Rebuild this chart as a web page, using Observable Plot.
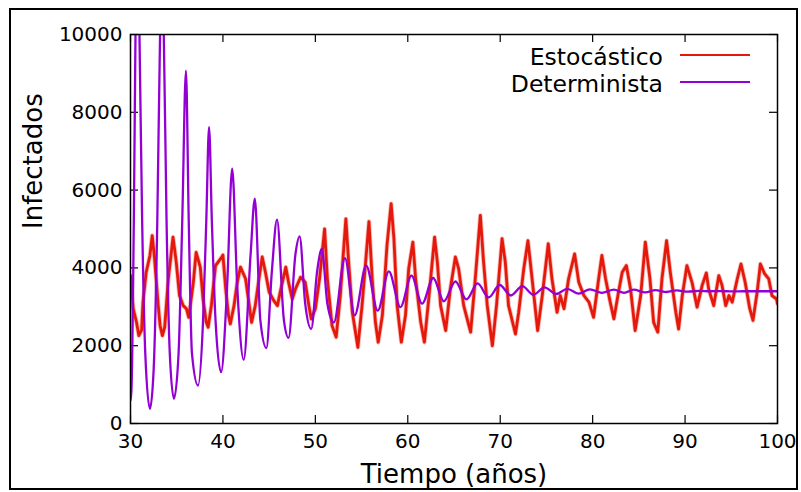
<!DOCTYPE html>
<html><head><meta charset="utf-8">
<script src="https://cdn.jsdelivr.net/npm/d3@7"></script>
<script src="https://cdn.jsdelivr.net/npm/@observablehq/plot@0.6"></script>
<style>
body{margin:0;background:#fff;font-family:"DejaVu Sans",sans-serif;}
#wrap{position:relative;width:801px;height:492px;overflow:hidden;}
#border{position:absolute;left:9px;top:8px;width:785px;height:478px;border:2px solid #000;pointer-events:none;}
.lrow{position:absolute;left:380px;width:283px;text-align:right;font-size:23.5px;line-height:27.4px;color:#000;white-space:nowrap;}
.lline{position:absolute;left:680px;width:70px;height:2px;}
</style>
</head><body>
<div id="wrap"><div id="border"></div></div>
<script>
// Data
const xTicks = [30, 40, 50, 60, 70, 80, 90, 100];
const yTicks = [0, 2000, 4000, 6000, 8000, 10000];
const seriesNames = ["Estocástico", "Determinista"];
const seriesColors = ["#e4190b", "#9400d3"];

const stochTime = [30.0,30.3,30.65,30.9,31.2,31.35,31.7,32.1,32.35,32.6,33.0,33.2,33.45,33.7,34.1,34.6,34.95,35.3,35.7,36.05,36.3,36.8,37.1,37.55,37.85,38.2,38.4,38.75,39.2,39.85,40.0,40.3,40.6,40.8,41.2,41.55,41.9,42.45,42.8,43.1,43.5,43.9,44.25,44.6,45.0,45.5,45.9,46.2,46.8,47.1,47.5,47.85,48.4,48.9,49.3,49.55,50.0,50.45,51.0,51.3,51.8,52.25,52.7,53.3,53.6,54.0,54.6,55.05,55.8,56.15,56.5,56.8,57.25,57.75,58.2,58.5,58.85,59.3,59.75,60.1,60.55,60.85,61.4,61.8,62.3,62.9,63.2,63.55,64.1,64.6,65.15,65.5,66.05,66.8,67.3,67.85,68.2,68.6,69.15,69.6,70.2,70.55,70.9,71.65,72.0,72.55,73.0,73.45,74.05,74.55,75.2,75.6,76.15,76.5,76.9,77.4,78.05,78.5,79.05,79.6,80.1,80.65,81.0,81.4,81.9,82.3,82.8,83.2,83.65,84.1,84.6,85.2,85.7,86.2,86.6,87.05,87.5,88.0,88.4,89.0,89.3,89.7,90.2,90.75,91.3,91.85,92.3,92.55,93.1,93.65,94.0,94.4,94.75,95.1,95.65,96.05,96.5,97.0,97.35,97.8,98.15,98.6,99.05,99.4,99.9,100.0];
const stochValue = [3800,2950,2600,2260,2400,3120,3890,4320,4830,4240,3030,2520,2260,2475,3730,4790,4150,3290,3030,2950,2730,3630,4400,4020,3200,2600,2475,3030,4060,4270,4330,3460,2780,2560,3030,3630,4020,3720,3120,2600,3030,3720,4280,3890,3380,3160,3030,3380,4020,3630,3200,3460,3760,3630,3030,2690,2950,3720,5000,3720,2520,2220,3290,5260,4150,2860,1960,3030,5190,3720,2600,2090,2780,4580,5650,4750,3030,2090,2780,3980,4660,3720,2600,2090,3290,4790,4150,3030,2390,3460,4280,3980,3030,2350,3720,5350,4150,3030,2000,3030,4750,4150,3030,2300,2860,3980,4700,3720,2390,3290,4620,3720,2860,3290,2950,3720,4360,3630,3290,3120,2730,3720,4320,3720,3120,2690,3380,3890,4060,3460,2390,3290,4660,3720,2600,2350,3720,4700,3890,2860,2430,3290,4060,3630,2990,3550,3870,3460,3030,3800,3550,3030,3290,3120,3720,4100,3630,2950,2650,3380,4100,3850,3720,3290,3200,3080];

const detTime = [30.0,30.1,30.36,30.54,30.75,30.97,31.26,31.6,32.1,32.5,32.9,33.2,33.4,33.6,33.9,34.25,34.7,35.2,35.6,36.0,36.3,36.65,37.3,37.85,38.2,38.5,38.8,39.2,39.8,40.45,41.0,41.55,42.25,43.0,43.45,44.05,44.7,45.3,45.85,46.6,47.1,47.85,48.3,48.9,49.55,50.2,50.7,51.3,52.0,53.2,54.25,55.5,56.75,57.95,59.2,60.4,61.55,62.75,63.9,65.15,66.35,67.55,68.75,69.95,71.15,72.4,73.6,74.8,76.05,77.25,78.5,79.7,81.0,82.3,83.4,84.45,85.7,86.8,88.0,89.1,90.3,91.5,92.7,93.9,95.1,96.3,97.5,100.0];
const detValue = [600,850,5220,10000,13500,10000,5220,1800,377,1360,5220,10000,11500,10000,5220,1800,635,1800,5220,9070,5220,1800,977,2650,5220,7620,5220,2650,1320,3500,6550,3500,1640,4370,5780,2650,1940,3930,5240,2650,2200,4360,4810,3080,2430,3930,4490,3080,2600,4250,2780,4060,2900,3910,2990,3800,3080,3740,3140,3650,3190,3600,3240,3560,3290,3530,3310,3500,3330,3460,3340,3450,3360,3440,3360,3440,3370,3430,3380,3420,3390,3410,3400,3405,3395,3400,3400,3400];

const stoch = stochTime.map((t, i) => ({t, v: stochValue[i]}));
const det = detTime.map((t, i) => ({t, v: detValue[i]}));

const plot = Plot.plot({
  width: 801, height: 492,
  marginLeft: 130, marginRight: 24, marginTop: 34, marginBottom: 69,
  style: {fontFamily: "DejaVu Sans", fontSize: "20px", color: "#000", background: "transparent", overflow: "visible"},
  x: {domain: [30, 100]},
  y: {domain: [0, 10000]},
  marks: [
    Plot.axisX(xTicks, {tickSize: 0, tickPadding: 10, fontSize: 20, label: null, tickFormat: d => String(d)}),
    Plot.axisY(yTicks, {tickSize: 0, tickPadding: 8, fontSize: 20, label: null, tickFormat: d => String(d)}),
    Plot.tickX(xTicks, {x: d => d, insetTop: 381, stroke: "#000", strokeWidth: 1.2}),
    Plot.tickX(xTicks, {x: d => d, insetBottom: 381, stroke: "#000", strokeWidth: 1.2}),
    Plot.tickY(yTicks, {y: d => d, insetRight: 639, stroke: "#000", strokeWidth: 1.2}),
    Plot.tickY(yTicks, {y: d => d, insetLeft: 639, stroke: "#000", strokeWidth: 1.2}),
    Plot.line(stoch, {x: "t", y: "v", stroke: seriesColors[0], strokeWidth: 4.5, strokeOpacity: 0.3, clip: true}),
    Plot.line(stoch, {x: "t", y: "v", stroke: seriesColors[0], strokeWidth: 2.8, clip: true}),
    Plot.line(det, {x: "t", y: "v", stroke: seriesColors[1], strokeWidth: 2.3, curve: "monotone-x", clip: true}),
    Plot.frame({stroke: "#000", strokeWidth: 1.5}),
    Plot.text(["Tiempo (años)"], {text: d => d, frameAnchor: "bottom", dy: 51, fontSize: 26, lineAnchor: "middle"}),
    Plot.text(["Infectados"], {text: d => d, frameAnchor: "left", dx: -97, rotate: -90, fontSize: 26, lineAnchor: "middle"})
  ]
});
const wrap = document.getElementById("wrap");
plot.style.position = "absolute";
plot.style.left = "0px";
plot.style.top = "0px";
wrap.insertBefore(plot, wrap.firstChild);

// legend
const rowTops = [44, 70.5];
const lineTops = [54, 81];
seriesNames.forEach((name, i) => {
  const r = document.createElement("div");
  r.className = "lrow";
  r.style.top = rowTops[i] + "px";
  r.textContent = name;
  wrap.appendChild(r);
  const l = document.createElement("div");
  l.className = "lline";
  l.style.top = lineTops[i] + "px";
  l.style.background = seriesColors[i];
  wrap.appendChild(l);
});
</script>
</body></html>
